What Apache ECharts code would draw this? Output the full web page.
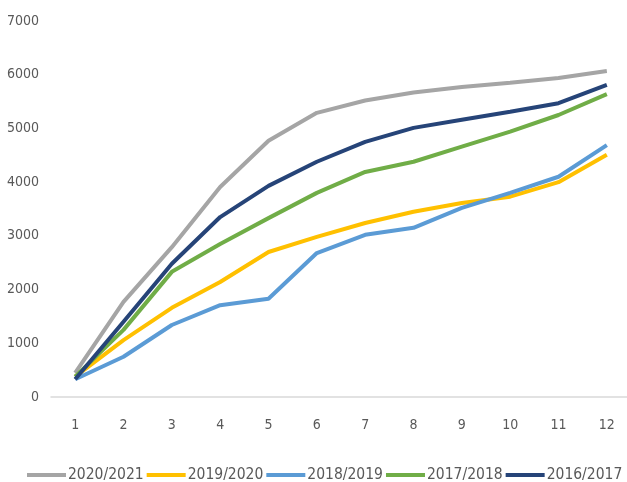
<!DOCTYPE html>
<html>
<head>
<meta charset="utf-8">
<script src="https://cdn.jsdelivr.net/npm/echarts@6/dist/echarts.min.js"></script>
<style>
html,body{margin:0;padding:0;background:#fff;}
#main{width:627px;height:482px;}
</style>
</head>
<body>
<div id="main"></div>
<script>
const categories = ['1','2','3','4','5','6','7','8','9','10','11','12'];
const seriesNames = ['2020/2021','2019/2020','2018/2019','2017/2018','2016/2017'];
const s2020_2021 = [450, 1770, 2790, 3910, 4770, 5290, 5520, 5670, 5770, 5850, 5940, 6070];
const s2019_2020 = [380, 1060, 1660, 2140, 2700, 2980, 3240, 3450, 3610, 3730, 4000, 4510];
const s2018_2019 = [330, 750, 1340, 1710, 1830, 2680, 3020, 3150, 3520, 3800, 4100, 4690];
const s2017_2018 = [380, 1250, 2330, 2850, 3330, 3800, 4190, 4380, 4660, 4940, 5250, 5640];
const s2016_2017 = [330, 1400, 2480, 3350, 3930, 4380, 4750, 5010, 5160, 5310, 5470, 5810];
const colors = ['#a5a5a5','#ffc000','#5b9bd5','#70ad47','#264478'];
const seriesData = [s2020_2021, s2019_2020, s2018_2019, s2017_2018, s2016_2017];

const font = '"DejaVu Sans Condensed", sans-serif';
const chart = echarts.init(document.getElementById('main'), null, {renderer:'canvas'});
chart.setOption({
  animation: false,
  color: colors,
  grid: { left: 51, top: 21, width: 580, height: 376, containLabel: false, outerBoundsMode: 'none' },
  legend: {
    left: 27, top: 467, padding: 0, width: 600,
    icon: 'rect', itemWidth: 39, itemHeight: 4, itemGap: 3,
    textStyle: { fontFamily: font, fontSize: 15.5, color: '#595959', padding: [0,0,0,-3] },
    data: seriesNames
  },
  xAxis: {
    type: 'category', data: categories, boundaryGap: true,
    axisLine: { lineStyle: { color: '#d9d9d9', width: 1.5 } },
    axisTick: { show: false },
    axisLabel: { fontFamily: font, fontSize: 14, color: '#595959', margin: 21 }
  },
  yAxis: {
    type: 'value', min: 0, max: 7000, interval: 1000,
    axisLine: { show: false }, axisTick: { show: false },
    splitLine: { show: false },
    axisLabel: { fontFamily: font, fontSize: 14, color: '#595959', margin: 12, formatter: v => String(v) }
  },
  series: seriesNames.map((n, i) => ({
    name: n, type: 'line', data: seriesData[i], symbol: 'none',
    lineStyle: { width: 4, color: colors[i] }, itemStyle: { color: colors[i] }
  }))
});
</script>
</body>
</html>
